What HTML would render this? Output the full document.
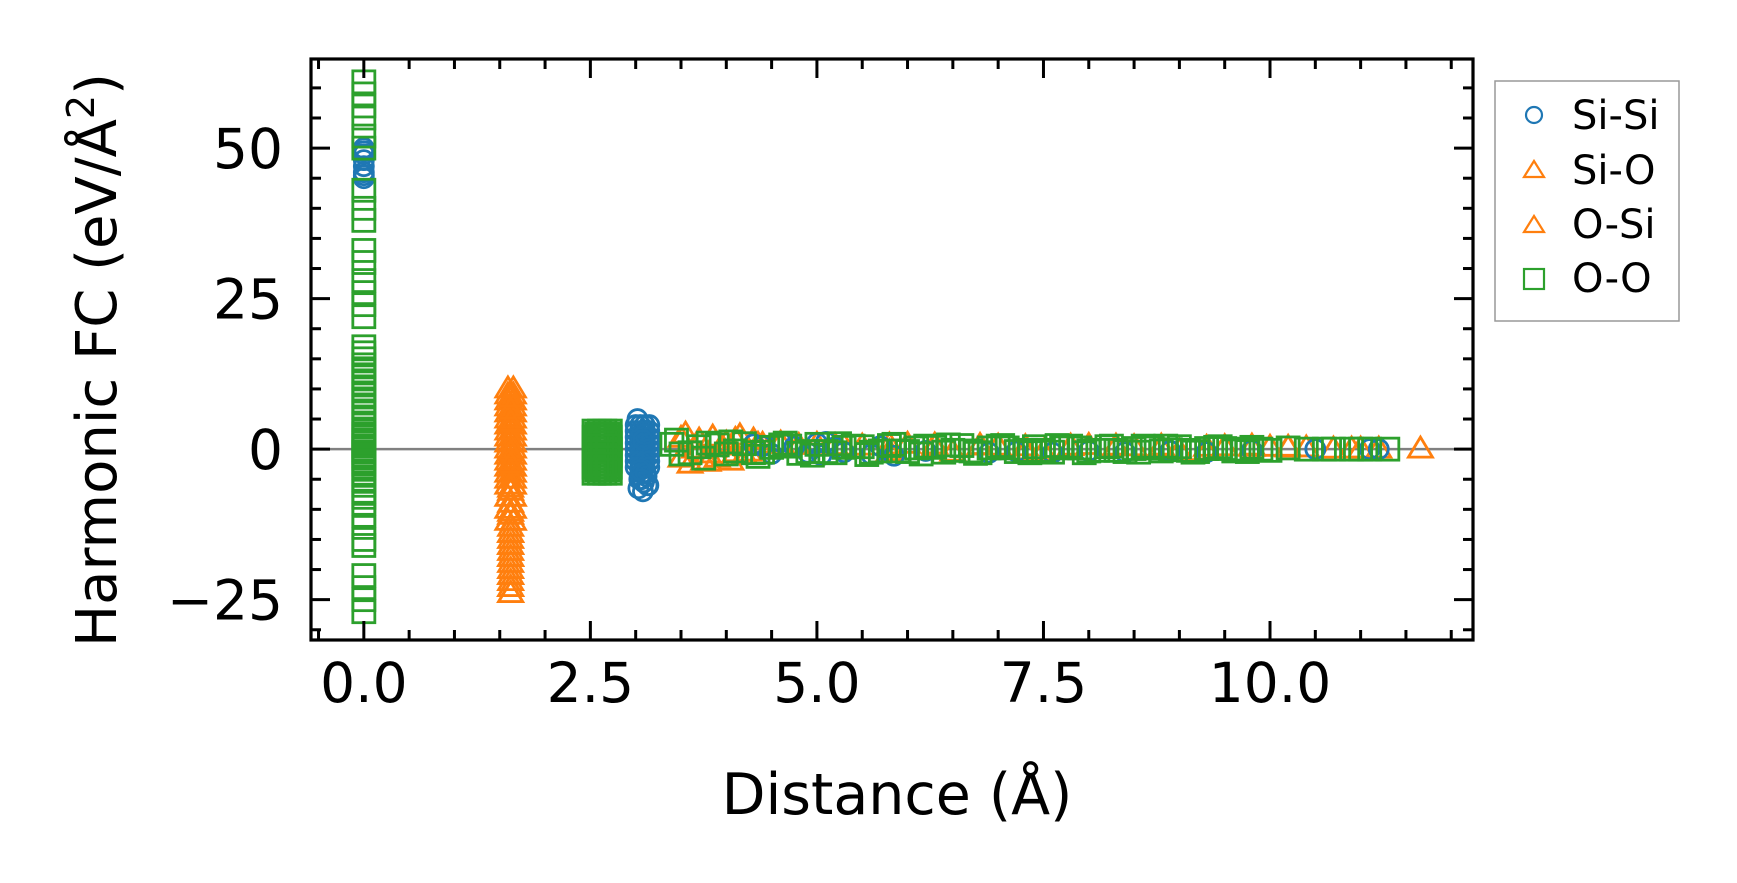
<!DOCTYPE html>
<html><head><meta charset="utf-8">
<style>
html,body{margin:0;padding:0;background:#fff;}
svg{display:block;font-family:"DejaVu Sans","Liberation Sans",sans-serif;}
</style></head>
<body>
<svg id="chart" width="1737" height="883" viewBox="0 0 1737 883" xmlns="http://www.w3.org/2000/svg">
<g id="marks"></g>
<g id="axes"></g>
<text x="897" y="814" font-size="57" text-anchor="middle">Distance (Å)</text>
<text transform="translate(116,360) rotate(-90)" font-size="56" text-anchor="middle">Harmonic FC (eV/Å<tspan font-size="38" dy="-22">2</tspan><tspan dy="22">)</tspan></text>
<g>
<rect x="1495" y="81" width="184" height="240" fill="#fff" stroke="#999" stroke-width="1.5"/>
<g><circle cx="1534" cy="115" r="8" fill="none" stroke="#1f77b4" stroke-width="2.2"/><text x="1572" y="129" font-size="40">Si-Si</text></g>
<g><polygon points="1534,161 1544,177 1524,177" fill="none" stroke="#ff7f0e" stroke-width="2.2"/><text x="1572" y="184" font-size="40">Si-O</text></g>
<g><polygon points="1534,216 1544,232 1524,232" fill="none" stroke="#ff7f0e" stroke-width="2.2"/><text x="1572" y="238" font-size="40">O-Si</text></g>
<g><rect x="1524" y="269" width="20" height="20" fill="none" stroke="#2ca02c" stroke-width="2.2"/><text x="1572" y="292" font-size="40">O-O</text></g>
</g>
</svg>
<script>
const xTicks = [0, 2.5, 5, 7.5, 10];
const xTickLabels = ["0.0", "2.5", "5.0", "7.5", "10.0"];
const yTicks = [-25, 0, 25, 50];
const yTickLabels = ["\u221225", "0", "25", "50"];

const siSiX = [0,0,0,0,0,0,0,0,
 3.0,3.05,3.1,3.15,3.0,3.05,3.1,3.15,3.0,3.05,3.1,3.15,3.0,3.05,3.1,3.15,3.0,3.05,3.1,3.15,3.0,3.05,3.1,3.15,3.0,3.05,3.1,3.15,3.0,3.05,3.1,3.15,
 3.02,3.07,3.12,3.04,3.09,3.14,3.03,3.08,3.13,3.06,3.11,3.05,3.1,3.08,
 4.3,4.4,4.5,4.6,4.75,4.9,5.0,5.05,5.1,5.2,5.3,5.6,5.7,5.85,6.2,6.9,7.2,7.6,8.0,8.4,8.9,9.3,9.8,10.5,11.1,11.2];
const siSiY = [50,49.5,49,48,47,46,45.5,45,
 4,4,4,4,3,3,3,3,2,2,2,2,1,1,1,1,0,0,0,0,-1,-1,-1,-1,-2,-2,-2,-2,-3,-3,-3,-3,
 5,-4,-4.5,-5,-5.5,-6,-6.5,-7,-6,-5,-4,-3.5,2.5,1.5,
 0.8,0.5,-0.8,1.2,0.4,-0.6,1.0,-1.0,1.2,0.3,-0.5,-0.9,0.5,-1.1,-0.3,-0.6,-0.4,-0.6,-0.3,-0.5,-0.3,-0.5,-0.2,0,0,0];

const siOX = [1.59,1.65,1.59,1.65,1.59,1.65,1.59,1.65,1.59,1.65,1.59,1.65,1.59,1.65,1.59,1.65,1.59,1.65,1.59,1.65,
 1.59,1.65,1.59,1.65,1.59,1.65,1.59,1.65,1.59,1.65,1.59,1.65,1.59,1.65,1.59,1.65,1.59,1.65,1.59,1.65,
 1.62,1.62,1.62,1.62,1.62,1.62,1.62,1.62,1.62,1.62,1.62,1.62,1.62,1.62,1.62,1.62,1.62,1.62,1.62,1.62,1.62,1.62,1.62,
 3.55,3.6,3.7,3.75,3.85,3.9,4.0,4.05,4.15,4.2,4.3,3.65,3.95,4.25,3.5,3.8,4.1,4.35,
 4.6,4.8,5.0,5.3,5.5,5.8,6.0,6.3,6.5,6.8,7.0,7.3,7.5,7.8,8.0,8.3,8.5,8.8,9.0,9.3,9.5,9.8,10.0,10.2,10.4,10.9,11.2,11.66];
const siOY = [10,10,8,8,6,6,4,4,2,2,0,0,-2,-2,-4,-4,-6,-6,-8,-8,
 -10,-10,-12,-12,9,9,7,7,5,5,3,3,1,1,-1,-1,-3,-3,-5,-5,
 -7,-9,-11,-13,-14,-15,-16,-17,-18,-19,-20,-21,-22,-23,-24,-24,8.5,6.5,4.5,-0.5,-2.5,-6.5,-10.5,
 2.5,-2.5,1.5,-2,2,-1.5,1,-2,2.2,-1,1.5,0,0.5,-0.5,-1.5,-0.8,-0.6,0.8,
 1,0.6,0.8,0.5,0.5,0.7,0.8,0.4,-0.5,0.6,0.5,0.4,-0.4,0.5,0.6,0.4,0.4,0.5,-0.3,0.3,0.4,0.5,0.3,0.3,0.2,0,0,0];
const oSiX = [1.62,1.62,1.62,1.62,1.62,3.5,3.8,4.1,4.4,5.2,5.8,6.3,6.8,7.3,7.8,8.3,8.8,9.3,9.8,10.2,10.7,11.0];
const oSiY = [-14,-16,-18,-21,-23,1.8,-2.2,1.6,0.8,0.6,-0.4,0.7,0.5,-0.3,0.4,0.5,0.3,-0.3,0.3,0.2,0,0];

const ooX = [0,0,0,0,0,0,0,0,0,0,0,0,0,0,0,0,0,0,0,0,0,0,0,0,0,0,0,0,0,0,0,0,0,0,0,0,0,0,0,0,0,0,0,0,
 0,0,0,0,0,0,0,0,0,0,0,0,
 2.54,2.6,2.66,2.72,2.54,2.6,2.66,2.72,2.54,2.6,2.66,2.72,2.54,2.6,2.66,2.72,2.54,2.6,2.66,2.72,2.54,2.6,2.66,2.72,2.54,2.6,2.66,2.72,2.54,2.6,2.66,2.72,
 2.57,2.63,2.69,2.57,2.63,2.69,2.57,2.63,2.69,2.57,2.63,2.69,2.57,2.63,2.69,2.57,2.63,2.69,2.57,2.63,2.69,
 3.4,3.6,3.8,4.0,4.2,4.4,4.6,4.8,5.0,5.2,5.4,5.6,5.8,6.0,6.2,6.4,6.6,6.8,7.0,7.2,7.4,7.6,7.8,8.0,8.2,8.4,8.6,8.8,9.0,9.2,9.4,9.6,9.8,10.0,10.2,10.4,
 3.5,3.7,3.9,4.1,4.3,4.5,4.7,4.9,5.1,5.3,5.5,5.7,5.9,6.1,6.3,6.5,6.7,6.9,7.1,7.3,7.5,7.7,7.9,8.1,8.3,8.5,8.7,8.9,9.1,9.3,9.5,9.7,9.9,
 3.45,3.75,4.05,4.35,4.65,4.95,5.25,5.55,5.85,6.15,6.45,6.75,7.05,7.35,7.65,7.95,8.25,8.55,8.85,9.15,9.45,9.75,
 10.6,10.7,10.9,11.0,11.1,11.3];
const ooY = [61,59,57,55,52,50,43,40,38,33,31,28,26,24,22,17,15,13,12,10,9,8,7,6,5,4,3,2,1,0,-1,-2,-3,-5,-7,-9,-11,-13,-15,-16,-21,-23,-25,-27,
 0.5,-0.5,1.5,-1.5,2.5,-2.5,-4,-6,-8,11,14,16,
 3,3,3,3,2,2,2,2,1,1,1,1,0,0,0,0,-1,-1,-1,-1,-2,-2,-2,-2,-3,-3,-3,-3,-4,-4,-4,-4,
 2.5,2.5,2.5,1.5,1.5,1.5,0.5,0.5,0.5,-0.5,-0.5,-0.5,-1.5,-1.5,-1.5,-2.5,-2.5,-2.5,-3.5,-3.5,-3.5,
 0.8,-0.6,1.0,-0.8,0.9,-0.5,0.7,-0.7,0.8,-0.6,0.5,-0.5,0.6,-0.4,0.5,-0.5,0.6,-0.6,0.5,-0.4,0.4,-0.5,0.5,-0.3,0.4,-0.4,0.5,-0.3,0.4,-0.4,0.3,-0.3,0.3,-0.2,0.2,0,
 -0.8,0.4,0.7,-0.3,-0.6,0.3,0.5,-0.4,-0.4,0.3,0.4,-0.3,-0.3,0.2,0.3,-0.2,-0.3,0.2,0.2,-0.2,-0.2,0.2,0.2,-0.2,-0.2,0.1,0.2,-0.1,-0.2,0.1,0.1,0,0,
 1.5,-1.5,1.2,-1.2,1.0,-1.0,0.9,-0.9,0.8,-0.8,0.7,-0.7,0.6,-0.6,0.6,-0.6,0.5,-0.5,0.5,-0.5,0.4,-0.4,
 0,0,0,0,0,0];

const L = 311, R = 1473, T = 59, B = 640;
const xMin = -0.583, xMax = 12.24, yMin = -31.7, yMax = 64.8;
function sx(v){ return L + (v - xMin) / (xMax - xMin) * (R - L); }
function sy(v){ return B - (v - yMin) / (yMax - yMin) * (B - T); }
const NS = "http://www.w3.org/2000/svg";
const marks = document.getElementById('marks');
const axes = document.getElementById('axes');
function mk(tag, attrs, parent){ const e = document.createElementNS(NS, tag); for (const k in attrs) e.setAttribute(k, attrs[k]); parent.appendChild(e); return e; }

const zl = mk('line', {x1:L, x2:R, y1:sy(0), y2:sy(0), stroke:'#808080', 'stroke-width':2.5}, marks);



const SW = 2.8;
function drawCircles(xs, ys){
  for (let i = 0; i < xs.length; i++){
    const c = mk('circle', {cx:sx(xs[i]), cy:sy(ys[i]), r:9.5, fill:'none', stroke:'#1f77b4', 'stroke-width':SW}, marks);
    
    
  }
}
function drawTris(xs, ys, name){
  for (let i = 0; i < xs.length; i++){
    const x = sx(xs[i]), y = sy(ys[i]);
    const p = mk('polygon', {points:`${x},${y-12} ${x+12},${y+8} ${x-12},${y+8}`, fill:'none', stroke:'#ff7f0e', 'stroke-width':SW}, marks);
    
    
  }
}
function drawSquares(xs, ys){
  for (let i = 0; i < xs.length; i++){
    const s = mk('rect', {x:sx(xs[i])-11, y:sy(ys[i])-11, width:22, height:22, fill:'none', stroke:'#2ca02c', 'stroke-width':SW}, marks);
    
    
  }
}
drawTris(siOX, siOY, 'si-o-point');
drawTris(oSiX, oSiY, 'o-si-point');
drawCircles(siSiX, siSiY);
drawSquares(ooX, ooY);

const fr = mk('rect', {x:L, y:T, width:R-L, height:B-T, fill:'none', stroke:'#000', 'stroke-width':3.2}, axes);



for (let v = -0.5; v <= 12.2; v += 0.5){
  const major = Math.abs(v / 2.5 - Math.round(v / 2.5)) < 1e-6;
  const len = major ? 19 : 10;
  const x = sx(v);
  const t1 = mk('line', {x1:x, x2:x, y1:B, y2:B-len, stroke:'#000', 'stroke-width':3}, axes);
  
  
  const t2 = mk('line', {x1:x, x2:x, y1:T, y2:T+len, stroke:'#000', 'stroke-width':3}, axes);
  
  
}
for (let i = 0; i < xTicks.length; i++){
  const t = mk('text', {x:sx(xTicks[i]), y:B+62, 'font-size':55, 'text-anchor':'middle'}, axes);
  t.textContent = xTickLabels[i];
  
  
}
for (let v = -30; v <= 64; v += 5){
  const major = v % 25 === 0;
  const len = major ? 19 : 10;
  const y = sy(v);
  const t1 = mk('line', {x1:L, x2:L+len, y1:y, y2:y, stroke:'#000', 'stroke-width':3}, axes);
  
  
  const t2 = mk('line', {x1:R, x2:R-len, y1:y, y2:y, stroke:'#000', 'stroke-width':3}, axes);
  
  
}
for (let i = 0; i < yTicks.length; i++){
  const t = mk('text', {x:L-28, y:sy(yTicks[i])+20, 'font-size':55, 'text-anchor':'end'}, axes);
  t.textContent = yTickLabels[i];
  
  
}
</script>
</body></html>
